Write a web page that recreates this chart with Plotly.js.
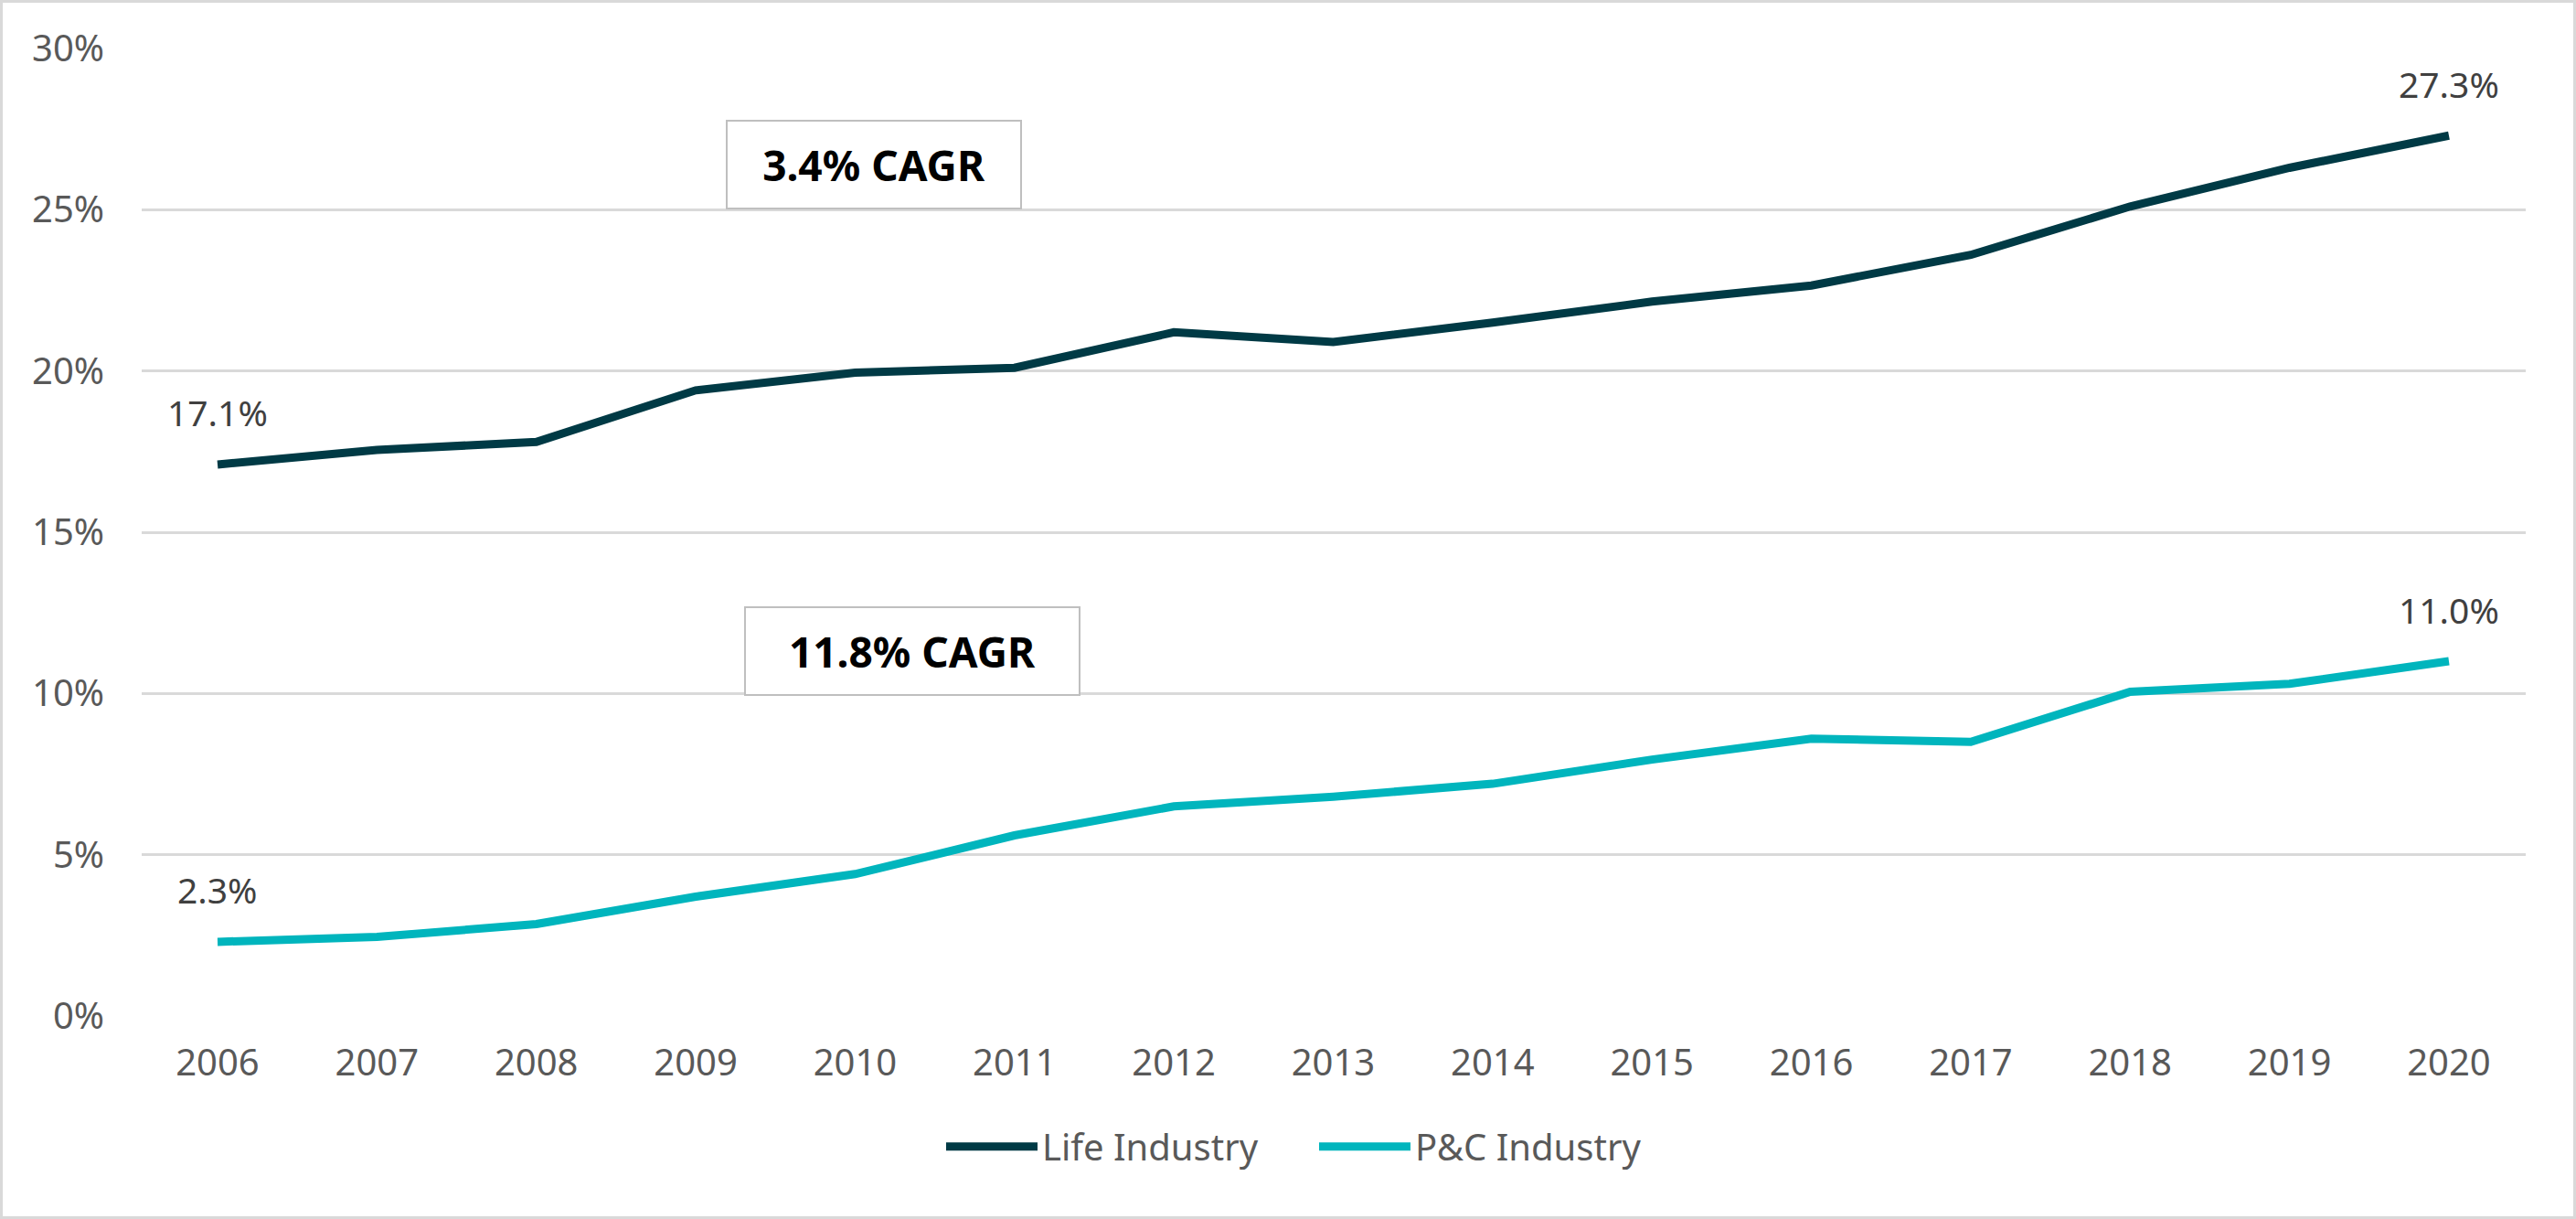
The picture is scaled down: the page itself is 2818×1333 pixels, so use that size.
<!DOCTYPE html>
<html>
<head>
<meta charset="utf-8">
<script src="https://cdn.plot.ly/plotly-3.0.1.min.js"></script>
<style>
html,body{margin:0;padding:0;background:#fff;}
#wrap{position:relative;width:2818px;height:1333px;}
#chart{position:absolute;left:0;top:0;width:2818px;height:1333px;}
#frame{position:absolute;left:0;top:0;width:2818px;height:1333px;box-sizing:border-box;border:3px solid #d9d9d9;pointer-events:none;}
</style>
</head>
<body>
<div id="wrap"><div id="chart"></div><div id="frame"></div></div>
<script>
const years = ["2006","2007","2008","2009","2010","2011","2012","2013","2014","2015","2016","2017","2018","2019","2020"];
const lifeIndustry = [17.1,17.55,17.8,19.4,19.95,20.1,21.2,20.9,21.5,22.15,22.65,23.6,25.1,26.3,27.3];
const pcIndustry = [2.3,2.45,2.85,3.7,4.4,5.6,6.5,6.8,7.2,7.95,8.6,8.5,10.05,10.3,11.0];
const seriesNames = ["Life Industry","P&C Industry"];
const cagrLabels = ["3.4% CAGR","11.8% CAGR"];
const yTicks = [0,5,10,15,20,25,30];

const lifeColor = "#003a45";
const pcColor = "#00b5bd";
const textColor = "#595959";
const fontFam = "'Noto Sans', 'Open Sans', sans-serif";

const traces = [
  {x: years, y: lifeIndustry, name: seriesNames[0], type: "scatter", mode: "lines",
   line: {color: lifeColor, width: 9}, hoverinfo: "skip"},
  {x: years, y: pcIndustry, name: seriesNames[1], type: "scatter", mode: "lines",
   line: {color: pcColor, width: 9}, hoverinfo: "skip"}
];

function endLabel(idx, yv){
  return {x: idx, y: yv, xref: "x", yref: "y", text: yv.toFixed(1) + "%",
    showarrow: false, yshift: 57, font: {family: fontFam, size: 39, color: "#404040"}};
}
const last = years.length - 1;
const annotations = [
  endLabel(0, lifeIndustry[0]),
  endLabel(last, lifeIndustry[last]),
  endLabel(0, pcIndustry[0]),
  endLabel(last, pcIndustry[last]),
  {x: 4.12, y: 26.4, xref: "x", yref: "y", text: "<b>" + cagrLabels[0] + "</b>", showarrow: false,
   width: 318, height: 92, bordercolor: "#bfbfbf", borderwidth: 2, bgcolor: "#fff",
   font: {family: fontFam, size: 46, color: "#000"}},
  {x: 4.36, y: 11.3, xref: "x", yref: "y", text: "<b>" + cagrLabels[1] + "</b>", showarrow: false,
   width: 362, height: 92, bordercolor: "#bfbfbf", borderwidth: 2, bgcolor: "#fff",
   font: {family: fontFam, size: 46, color: "#000"}}
];

const layout = {
  width: 2818, height: 1333,
  margin: {l: 155, r: 55, t: 53, b: 222},
  paper_bgcolor: "#fff", plot_bgcolor: "#fff",
  font: {family: fontFam, color: textColor, size: 40},
  showlegend: true,
  legend: {orientation: "h", x: 0.3355, xanchor: "left", y: -0.135, yanchor: "middle",
    font: {family: fontFam, size: 40, color: textColor}, itemwidth: 100,
    entrywidth: 293, entrywidthmode: "pixels", tracegroupgap: 0},
  xaxis: {type: "category", range: [-0.476, 14.482], showgrid: false, zeroline: false, showline: false,
    ticks: "", tickfont: {family: fontFam, size: 40, color: textColor}, ticklabelstandoff: 24, fixedrange: true},
  yaxis: {range: [0, 30], tickvals: yTicks, ticktext: yTicks.map(v => v + "%"),
    showgrid: true, gridcolor: "#d9d9d9", gridwidth: 3, zeroline: false, showline: false, ticks: "",
    tickfont: {family: fontFam, size: 40, color: textColor}, ticklabelstandoff: 40, fixedrange: true},
  annotations: annotations
};

Plotly.newPlot("chart", traces, layout, {displayModeBar: false, staticPlot: true});
</script>
</body>
</html>
